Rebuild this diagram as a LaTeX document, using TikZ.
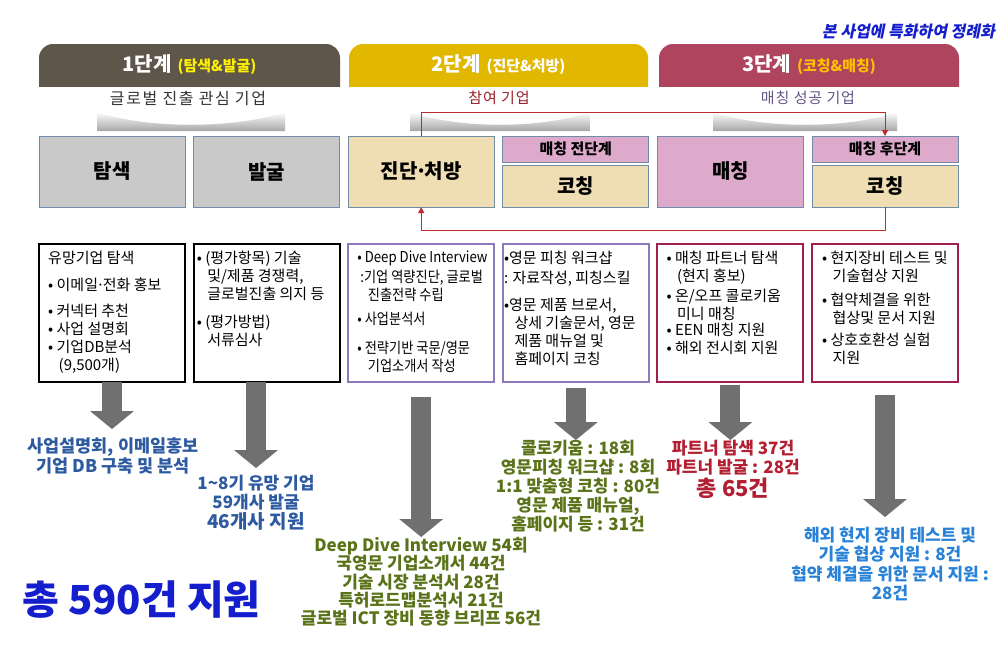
\documentclass[tikz,border=0pt]{standalone}
\usepackage{fontspec}
\setmainfont{Noto Sans CJK KR}
\newfontfamily\slantkr[FakeSlant=0.2]{Noto Sans CJK KR}
\newfontfamily\narrowkr[FakeStretch=0.88]{Noto Sans CJK KR}
\usetikzlibrary{arrows.meta,positioning}

\definecolor{stage1}{RGB}{94,85,75}
\definecolor{stage2}{RGB}{226,183,0}
\definecolor{stage3}{RGB}{175,68,95}
\definecolor{graybox}{RGB}{201,201,201}
\definecolor{tanbox}{RGB}{239,222,179}
\definecolor{pinkbox}{RGB}{222,170,203}
\definecolor{boxline}{RGB}{112,140,168}
\definecolor{lav}{RGB}{140,120,190}
\definecolor{plum}{RGB}{160,30,80}
\definecolor{loopred}{RGB}{192,40,50}
\definecolor{arrowgray}{RGB}{112,112,112}
\definecolor{blueA}{RGB}{45,90,160}
\definecolor{greenA}{RGB}{90,115,25}
\definecolor{redA}{RGB}{180,30,50}
\definecolor{blueB}{RGB}{40,130,215}
\definecolor{navy}{RGB}{20,30,205}
\definecolor{subyellow}{RGB}{255,240,0}
\definecolor{suborange}{RGB}{255,192,0}

\newcommand{\indt}{\hspace*{0.7em}}
\newcommand{\mdot}{\kern-0.12em·\kern-0.12em}

\begin{document}
\begin{tikzpicture}[x=1pt,y=-1pt,>={Triangle[length=6pt,width=6pt]},
  head/.style={text=white, inner sep=0, font=\fontsize{20}{24}\selectfont\bfseries},
  lens/.style={inner sep=0, font=\fontsize{15}{18}\selectfont\addfontfeature{LetterSpace=6}},
  task/.style={draw=boxline, line width=1pt, minimum width=146pt, minimum height=71pt,
    inner sep=0, outer sep=0, font=\fontsize{20}{24}\selectfont\bfseries},
  phase/.style={task, minimum height=26pt, fill=pinkbox, font=\fontsize{15}{18}\selectfont\bfseries},
  coach/.style={task, minimum height=42pt, fill=tanbox},
  frame/.style={draw, line width=2pt, minimum width=146pt, minimum height=138pt, inner sep=0, outer sep=0},
  txt/.style={align=left, inner sep=0, anchor=north west, font=\fontsize{15}{18}\selectfont},
  result/.style={align=center, inner sep=0, anchor=north},
  fat/.style={draw=arrowgray, line width=20pt, -{Triangle[length=18pt,width=44pt,line width=0pt]}},
  loop/.style={draw=loopred, line width=1pt, ->}
]

  \fill[white] (0,0) rectangle (1004,648);
  \useasboundingbox (0,0) rectangle (1004,648);

  % stage tabs
  \begin{scope}
    \clip (0,0) rectangle (1004,86);
    \foreach \a/\b/\c in {39/340/stage1, 349/648/stage2, 659/959/stage3}
      \fill[\c, rounded corners=14pt] (\a,44) rectangle (\b,110);
  \end{scope}
  \foreach \l/\r in {97/285, 410/590, 713/897}
    \shade[top color=white, bottom color=gray!70] (\l,112) -- (\l,131) -- (\r,131) -- (\r,112)
      .. controls (\r-50,129) and (\l+50,129) .. (\l,112) -- cycle;

  \node[anchor=east, inner sep=0, text=navy, font=\fontsize{16}{18}\selectfont\slantkr\bfseries] (note) at (995,32) {본 사업에 특화하여 정례화};

  \node[head] (h1) at (189.5,65) {1단계\hspace{6pt}{\fontsize{15}{18}\selectfont\color{subyellow}(탐색\&발굴)}};
  \node[head] (h2) at (498.5,65) {2단계\hspace{6pt}{\fontsize{15}{18}\selectfont(진단\&처방)}};
  \node[head] (h3) at (809,65) {3단계\hspace{6pt}{\fontsize{15}{18}\selectfont\color{suborange}(코칭\&매칭)}};

  \node[lens, text=black!80, font=\fontsize{16}{18}\selectfont\addfontfeature{LetterSpace=10}] (g1) at (188,98) {글로벌 진출 관심 기업};
  \node[lens, text=loopred!80!black] (g2) at (499,98) {참여 기업};
  \node[lens, text=lav!70!black] (g3) at (808,98) {매칭 성공 기업};

  % task boxes
  \node[task, fill=graybox, anchor=north west] (tamsaek) at (39,136) {탐색};
  \node[task, fill=graybox, right=8.6pt of tamsaek] (balgul) {발굴};
  \node[task, fill=tanbox, right=8.6pt of balgul] (jindan) {진단\mdot 처방};
  \node[phase, right=8.6pt of jindan.north east, anchor=north west] (pre) {매칭 전단계};
  \node[coach, below=3pt of pre] (coach1) {코칭};
  \node[task, fill=pinkbox, right=8.6pt of pre.north east, anchor=north west] (matching) {매칭};
  \node[phase, right=8.6pt of matching.north east, anchor=north west] (post) {매칭 후단계};
  \node[coach, below=3pt of post] (coach2) {코칭};

  \draw[loop] (jindan.north) -- ++(0,-24) -| (post.north);
  \draw[loop] (coach2.south) -- ++(0,23) -| (jindan.south);

  % detail frames
  \node[frame, below=37pt of tamsaek] (f1) {};
  \node[frame, below=37pt of balgul] (f2) {};
  \node[frame, draw=lav, line width=1.5pt, below=37pt of jindan] (f3) {};
  \node[frame, draw=lav, line width=1.5pt, below=37pt of coach1] (f4) {};
  \node[frame, draw=plum, below=37pt of matching] (f5) {};
  \node[frame, draw=plum, below=37pt of coach2] (f6) {};

  \node[txt] (d1) at ([shift={(9pt,-7pt)}]f1.north west) {유망기업 탐색\\[9pt]
    • 이메일\mdot 전화 홍보\\[8pt]
    • 커넥터 추천\\
    • 사업 설명회\\
    • 기업DB분석\\
    \indt(9,500개)};
  \node[txt] (d2) at ([shift={(3pt,-7pt)}]f2.north west) {• (평가항목) 기술\\
    \indt 및/제품 경쟁력,\\
    \indt 글로벌진출 의지 등\\[10pt]
    • (평가방법)\\
    \indt 서류심사};
  \node[txt, font=\narrowkr\fontsize{15}{18}\selectfont] (d3) at ([shift={(9pt,-7pt)}]f3.north west) {• Deep Dive Interview\\[2pt]
    \hspace*{0.2em}:기업 역량진단, 글로벌\\
    \indt 진출전략 수립\\[6pt]
    • 사업분석서\\[11pt]
    • 전략기반 국문/영문\\
    \indt 기업소개서 작성};
  \node[txt] (d4) at ([shift={(1pt,-7pt)}]f4.north west) {•영문 피칭 워크샵\\[2pt]
    : 자료작성, 피칭스킬\\[9pt]
    •영문 제품 브로서,\\
    \indt 상세 기술문서, 영문\\
    \indt 제품 매뉴얼 및\\
    \indt 홈페이지 코칭};
  \node[txt] (d5) at ([shift={(9pt,-7pt)}]f5.north west) {• 매칭 파트너 탐색\\
    \indt(현지 홍보)\\[2pt]
    • 온/오프 콜로키움\\
    \indt 미니 매칭\\[-2pt]
    • EEN 매칭 지원\\
    • 해외 전시회 지원};
  \node[txt] (d6) at ([shift={(10pt,-7pt)}]f6.north west) {• 현지장비 테스트 및\\
    \indt 기술협상 지원\\[6pt]
    • 협약체결을 위한\\
    \indt 협상및 문서 지원\\[4pt]
    • 상호호환성 실험\\
    \indt 지원};

  % results
  \node[result, text=blueA, font=\fontsize{17.5}{20}\selectfont\bfseries] (r1) at (113,437) {사업설명회, 이메일홍보\\기업 DB 구축 및 분석};
  \node[result, text=blueA, font=\fontsize{17}{19}\selectfont\bfseries] (r2) at (256,475) {1\textasciitilde8기 유망 기업\\59개사 발굴\\[1pt]{\fontsize{19}{20}\selectfont 46개사 지원}};
  \node[result, text=greenA, font=\fontsize{17}{18.3}\selectfont\bfseries] (r3) at (421,537) {Deep Dive Interview 54회\\국영문 기업소개서 44건\\기술 시장 분석서 28건\\특허로드맵분석서 21건\\글로벌 ICT 장비 동향 브리프 56건};
  \node[result, text=greenA, font=\fontsize{17}{19}\selectfont\bfseries] (r4) at (578,440) {콜로키움 : 18회\\영문피칭 워크샵 : 8회\\1:1 맞춤형 코칭 : 80건\\영문 제품 매뉴얼,\\홈페이지 등 : 31건};
  \node[result, text=redA, font=\fontsize{17}{19}\selectfont\bfseries] (r5) at (733,440) {파트너 탐색 37건\\파트너 발굴 : 28건\\[2pt]{\fontsize{22}{24}\selectfont 총 65건}};
  \node[result, text=blueB, font=\fontsize{17}{19.3}\selectfont\bfseries] (r6) at (890,527) {해외 현지 장비 테스트 및\\기술 협상 지원 : 8건\\협약 체결을 위한 문서 지원 :\\28건};

  \node[anchor=west, inner sep=0, text=navy, font=\fontsize{40}{44}\selectfont\bfseries] (total) at (22,600) {총 590건 지원};

  % gray arrows
  \draw[fat, shorten >=8pt] (f1.south) -- (f1.south |- r1.north);
  \draw[fat, shorten >=7pt] (f2.south -| r2.north) -- (r2.north);
  \draw[fat, shorten <=15pt] (f3.south) -- (f3.south |- r3.north);
  \draw[fat, shorten <=6pt] (f4.south) -- (f4.south |- r4.north);
  \draw[fat, shorten <=3pt] (f5.south) -- (f5.south |- r5.north);
  \draw[fat, shorten <=13pt, shorten >=10pt] (f6.south) -- (f6.south |- r6.north);

\end{tikzpicture}
\end{document}
